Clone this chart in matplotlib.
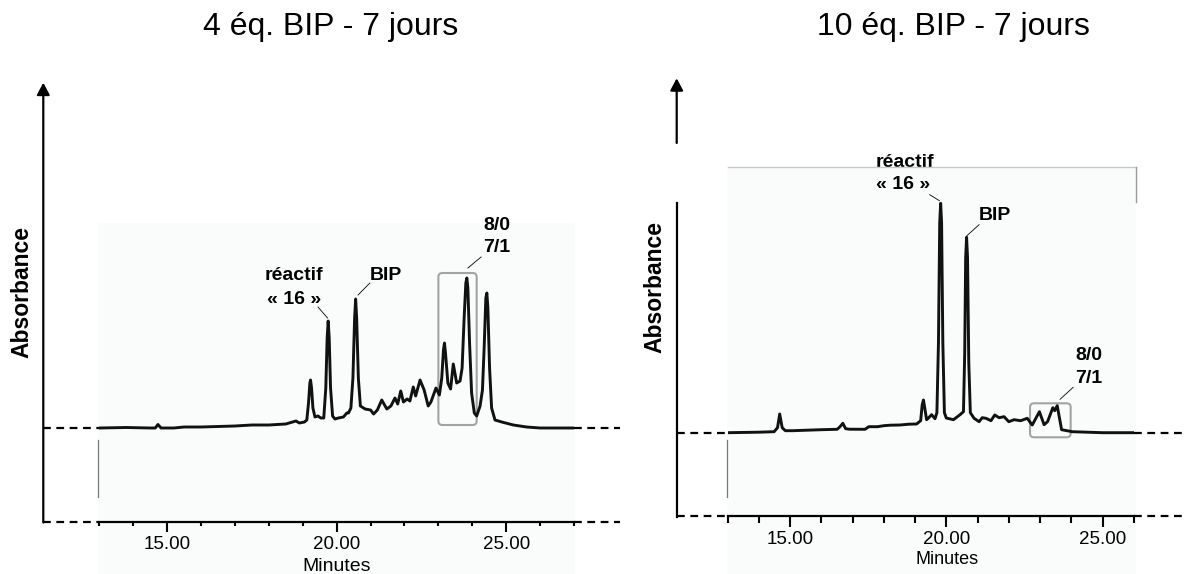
import matplotlib
matplotlib.use("Agg")
import matplotlib.pyplot as plt
from matplotlib.lines import Line2D
from matplotlib.patches import FancyBboxPatch, FancyArrowPatch, Rectangle
from matplotlib.ticker import MultipleLocator, FixedLocator, FormatStrFormatter

plt.rcParams['font.family'] = ['Liberation Sans', 'DejaVu Sans']

W, H = 1184, 574

# traces: (minutes, absorbance in a.u.)
trace_4eq = [
    (13.0, 0.0), (13.8, 0.005), (14.5, 0.0), (14.65, 0.0), (14.73, 0.035), (14.82, 0.0),
    (15.2, 0.0), (15.5, 0.01), (16.0, 0.01), (16.5, 0.015), (17.0, 0.02), (17.5, 0.03),
    (18.0, 0.03), (18.5, 0.04), (18.7, 0.06), (18.8, 0.07), (18.9, 0.05), (19.05, 0.06),
    (19.12, 0.08), (19.17, 0.25), (19.21, 0.45), (19.23, 0.48), (19.26, 0.4), (19.3, 0.2),
    (19.36, 0.11), (19.45, 0.12), (19.53, 0.1), (19.62, 0.1), (19.68, 0.4), (19.72, 0.9),
    (19.75, 1.07), (19.78, 0.9), (19.82, 0.4), (19.88, 0.12), (19.95, 0.09), (20.05, 0.1),
    (20.2, 0.11), (20.3, 0.15), (20.35, 0.15), (20.42, 0.2), (20.48, 0.5), (20.53, 1.1),
    (20.56, 1.29), (20.59, 1.1), (20.64, 0.5), (20.7, 0.22), (20.84, 0.19), (21.0, 0.18),
    (21.09, 0.14), (21.2, 0.18), (21.33, 0.28), (21.48, 0.19), (21.6, 0.22), (21.72, 0.3),
    (21.8, 0.24), (21.89, 0.37), (21.97, 0.26), (22.08, 0.29), (22.16, 0.27), (22.26, 0.41),
    (22.33, 0.32), (22.46, 0.48), (22.58, 0.38), (22.7, 0.22), (22.78, 0.26), (22.93, 0.4),
    (23.03, 0.33), (23.1, 0.5), (23.15, 0.78), (23.18, 0.85), (23.21, 0.75), (23.28, 0.45),
    (23.36, 0.39), (23.44, 0.64), (23.54, 0.45), (23.64, 0.47), (23.7, 0.6), (23.76, 1.1),
    (23.81, 1.45), (23.84, 1.5), (23.87, 1.4), (23.92, 0.85), (23.98, 0.35), (24.06, 0.15),
    (24.13, 0.12), (24.23, 0.22), (24.3, 0.38), (24.35, 0.8), (24.4, 1.3), (24.43, 1.35),
    (24.46, 1.2), (24.51, 0.6), (24.57, 0.2), (24.67, 0.08), (24.87, 0.06), (25.21, 0.03),
    (25.6, 0.01), (26.0, 0.0), (27.0, 0.0),
]
trace_10eq = [
    (13.0, 0.0), (14.0, 0.005), (14.49, 0.01), (14.6, 0.05), (14.67, 0.187), (14.75, 0.05),
    (14.85, 0.02), (15.08, 0.02), (16.0, 0.03), (16.51, 0.034), (16.6, 0.06), (16.69, 0.094),
    (16.78, 0.04), (16.9, 0.035), (17.4, 0.034), (17.52, 0.06), (17.8, 0.06), (18.0, 0.07),
    (18.2, 0.075), (18.52, 0.077), (18.8, 0.085), (19.05, 0.087), (19.18, 0.12), (19.23, 0.28),
    (19.27, 0.327), (19.31, 0.25), (19.37, 0.13), (19.43, 0.147), (19.53, 0.18), (19.64, 0.14),
    (19.7, 0.2), (19.75, 0.9), (19.79, 2.1), (19.82, 2.294), (19.85, 2.1), (19.89, 0.9),
    (19.94, 0.2), (20.0, 0.147), (20.23, 0.13), (20.44, 0.18), (20.55, 0.21), (20.59, 0.8),
    (20.62, 1.75), (20.65, 1.954), (20.68, 1.75), (20.72, 0.7), (20.77, 0.2), (20.89, 0.144),
    (21.05, 0.11), (21.15, 0.15), (21.27, 0.144), (21.43, 0.12), (21.55, 0.177), (21.69, 0.15),
    (21.85, 0.16), (22.0, 0.11), (22.17, 0.13), (22.38, 0.12), (22.59, 0.144), (22.75, 0.077),
    (22.98, 0.21), (23.13, 0.08), (23.24, 0.11), (23.41, 0.25), (23.47, 0.22), (23.55, 0.27),
    (23.69, 0.03), (24.03, 0.01), (25.0, 0.0), (26.0, 0.0),
]

titles = ["4 éq. BIP - 7 jours", "10 éq. BIP - 7 jours"]
major_ticks = [15, 20, 25]

fig = plt.figure(figsize=(W / 100, H / 100), dpi=100)


def fx(px):
    return px / W


def fy(py):
    return 1 - py / H


def fig_line(x0, y0, x1, y1, **kw):
    fig.add_artist(Line2D([fx(x0), fx(x1)], [fy(y0), fy(y1)],
                          transform=fig.transFigure, **kw))


def fig_rect(x0, y0, x1, y1, **kw):
    fig.add_artist(Rectangle((fx(x0), fy(y1)), fx(x1) - fx(x0), fy(y0) - fy(y1),
                             transform=fig.transFigure, **kw))


def arrow(x, ybot, ytop):
    fig.add_artist(FancyArrowPatch((fx(x), fy(ybot)), (fx(x), fy(ytop)),
                                   transform=fig.transFigure,
                                   arrowstyle='-|>,head_length=0.6,head_width=0.32',
                                   mutation_scale=12, lw=1.6, color='black',
                                   shrinkA=0, shrinkB=0))


dash = dict(color='black', lw=1.6, linestyle=(0, (3.5, 2.5)))
lab = dict(fontsize=14, fontweight='bold', ha='center', va='center')
leader = dict(color='black', lw=0.6)

# ---------------- left panel ----------------
fig_rect(98, 223, 575, 574, facecolor='#fafcfc', edgecolor='none', zorder=0)
fig_line(98.3, 440, 98.3, 497, color='#777777', lw=0.9)
fig_line(43.3, 428.3, 99.3, 428.3, **dash)
fig_line(574, 428.3, 620, 428.3, **dash)
fig_line(43.3, 521.7, 99.3, 521.7, **dash)
fig_line(574, 521.7, 620, 521.7, **dash)
arrow(43.3, 522.5, 82.7)

ax1 = fig.add_axes([fx(99.3), fy(521.7), fx(574) - fx(99.3), fy(82.7) - fy(521.7)])
ax1.set_xlim(13, 27)
ax1.set_ylim(-0.937, 3.453)
t1, a1 = zip(*trace_4eq)
ax1.plot(t1, a1, color='#111111', lw=2.1, solid_joinstyle='round')

ax1.add_patch(FancyBboxPatch((23.0, 0.03), 1.13, 1.52,
                             boxstyle="round,pad=0,rounding_size=0.12",
                             mutation_aspect=0.339, fc='none', ec='#a3a3a3', lw=1.5))
ax1.text(18.74, 1.53, "réactif", **lab)
ax1.text(18.74, 1.28, "« 16 »", **lab)
ax1.plot([19.45, 19.73], [1.21, 1.10], **leader)
ax1.text(21.46, 1.53, "BIP", **lab)
ax1.plot([20.98, 20.63], [1.45, 1.33], **leader)
ax1.text(24.73, 2.02, "8/0", **lab)
ax1.text(24.73, 1.81, "7/1", **lab)
ax1.plot([24.26, 23.87], [1.71, 1.60], **leader)

fig.text(fx(331), fy(27), titles[0], fontsize=23, ha='center', va='center')
fig.text(fx(21.7), fy(291.7), "Absorbance", fontsize=16.5, fontweight='bold',
         rotation=90, ha='center', va='center')
fig.text(fx(336.7), fy(566.7), "Minutes", fontsize=14, ha='center', va='center')

# ---------------- right panel ----------------
fig_rect(727, 167, 1136, 574, facecolor='#fafcfc', edgecolor='none', zorder=0)
fig_line(727.5, 167.3, 1135.6, 167.3, color='#c8c8c8', lw=1)
fig_line(1135.6, 167.3, 1135.6, 201.7, color='#9a9a9a', lw=1)
fig_line(727.2, 440, 727.2, 497, color='#777777', lw=0.9)
fig_line(676.7, 432.7, 727.5, 432.7, **dash)
fig_line(1133.8, 432.7, 1184, 432.7, **dash)
fig_line(676.7, 516, 727.5, 516, **dash)
fig_line(1133.8, 516, 1184, 516, **dash)
fig_line(676.7, 203, 676.7, 516.8, color='black', lw=1.6)
arrow(676.7, 143, 78.3)

ax2 = fig.add_axes([fx(727.5), fy(516), fx(1133.8) - fx(727.5), fy(78.3) - fy(516)])
ax2.set_xlim(13, 26)
ax2.set_ylim(-0.833, 3.544)
t2, a2 = zip(*trace_10eq)
ax2.plot(t2, a2, color='#111111', lw=2.1, solid_joinstyle='round')

ax2.add_patch(FancyBboxPatch((22.68, -0.046), 1.30, 0.34,
                             boxstyle="round,pad=0,rounding_size=0.128",
                             mutation_aspect=0.3125, fc='none', ec='#a3a3a3', lw=1.5))
ax2.text(18.68, 2.70, "réactif", **lab)
ax2.text(18.61, 2.48, "« 16 »", **lab)
ax2.plot([19.47, 19.78], [2.38, 2.32], **leader)
ax2.text(21.56, 2.17, "BIP", **lab)
ax2.plot([21.05, 20.66], [2.08, 1.97], **leader)
ax2.text(24.55, 0.77, "8/0", **lab)
ax2.text(24.55, 0.54, "7/1", **lab)
ax2.plot([24.06, 23.64], [0.454, 0.334], **leader)

fig.text(fx(953), fy(27), titles[1], fontsize=23, ha='center', va='center')
fig.text(fx(655), fy(287), "Absorbance", fontsize=16.5, fontweight='bold',
         rotation=90, ha='center', va='center')
fig.text(fx(947.3), fy(559.3), "Minutes", fontsize=13, ha='center', va='center')

# shared axis styling
for ax, minor_len, major_len in [(ax1, 3.2, 7.2), (ax2, 5.0, 8.0)]:
    ax.patch.set_visible(False)
    for side in ['top', 'left', 'right']:
        ax.spines[side].set_visible(False)
    ax.spines['bottom'].set_linewidth(1.6)
    ax.set_yticks([])
    ax.xaxis.set_major_locator(FixedLocator(major_ticks))
    ax.xaxis.set_minor_locator(MultipleLocator(1))
    ax.xaxis.set_major_formatter(FormatStrFormatter('%.2f'))
    ax.tick_params(axis='x', which='major', length=major_len, width=1.5,
                   labelsize=13.5, pad=3, colors='black')
    ax.tick_params(axis='x', which='minor', length=minor_len, width=1.5)

fig.savefig("out.png", dpi=100)
